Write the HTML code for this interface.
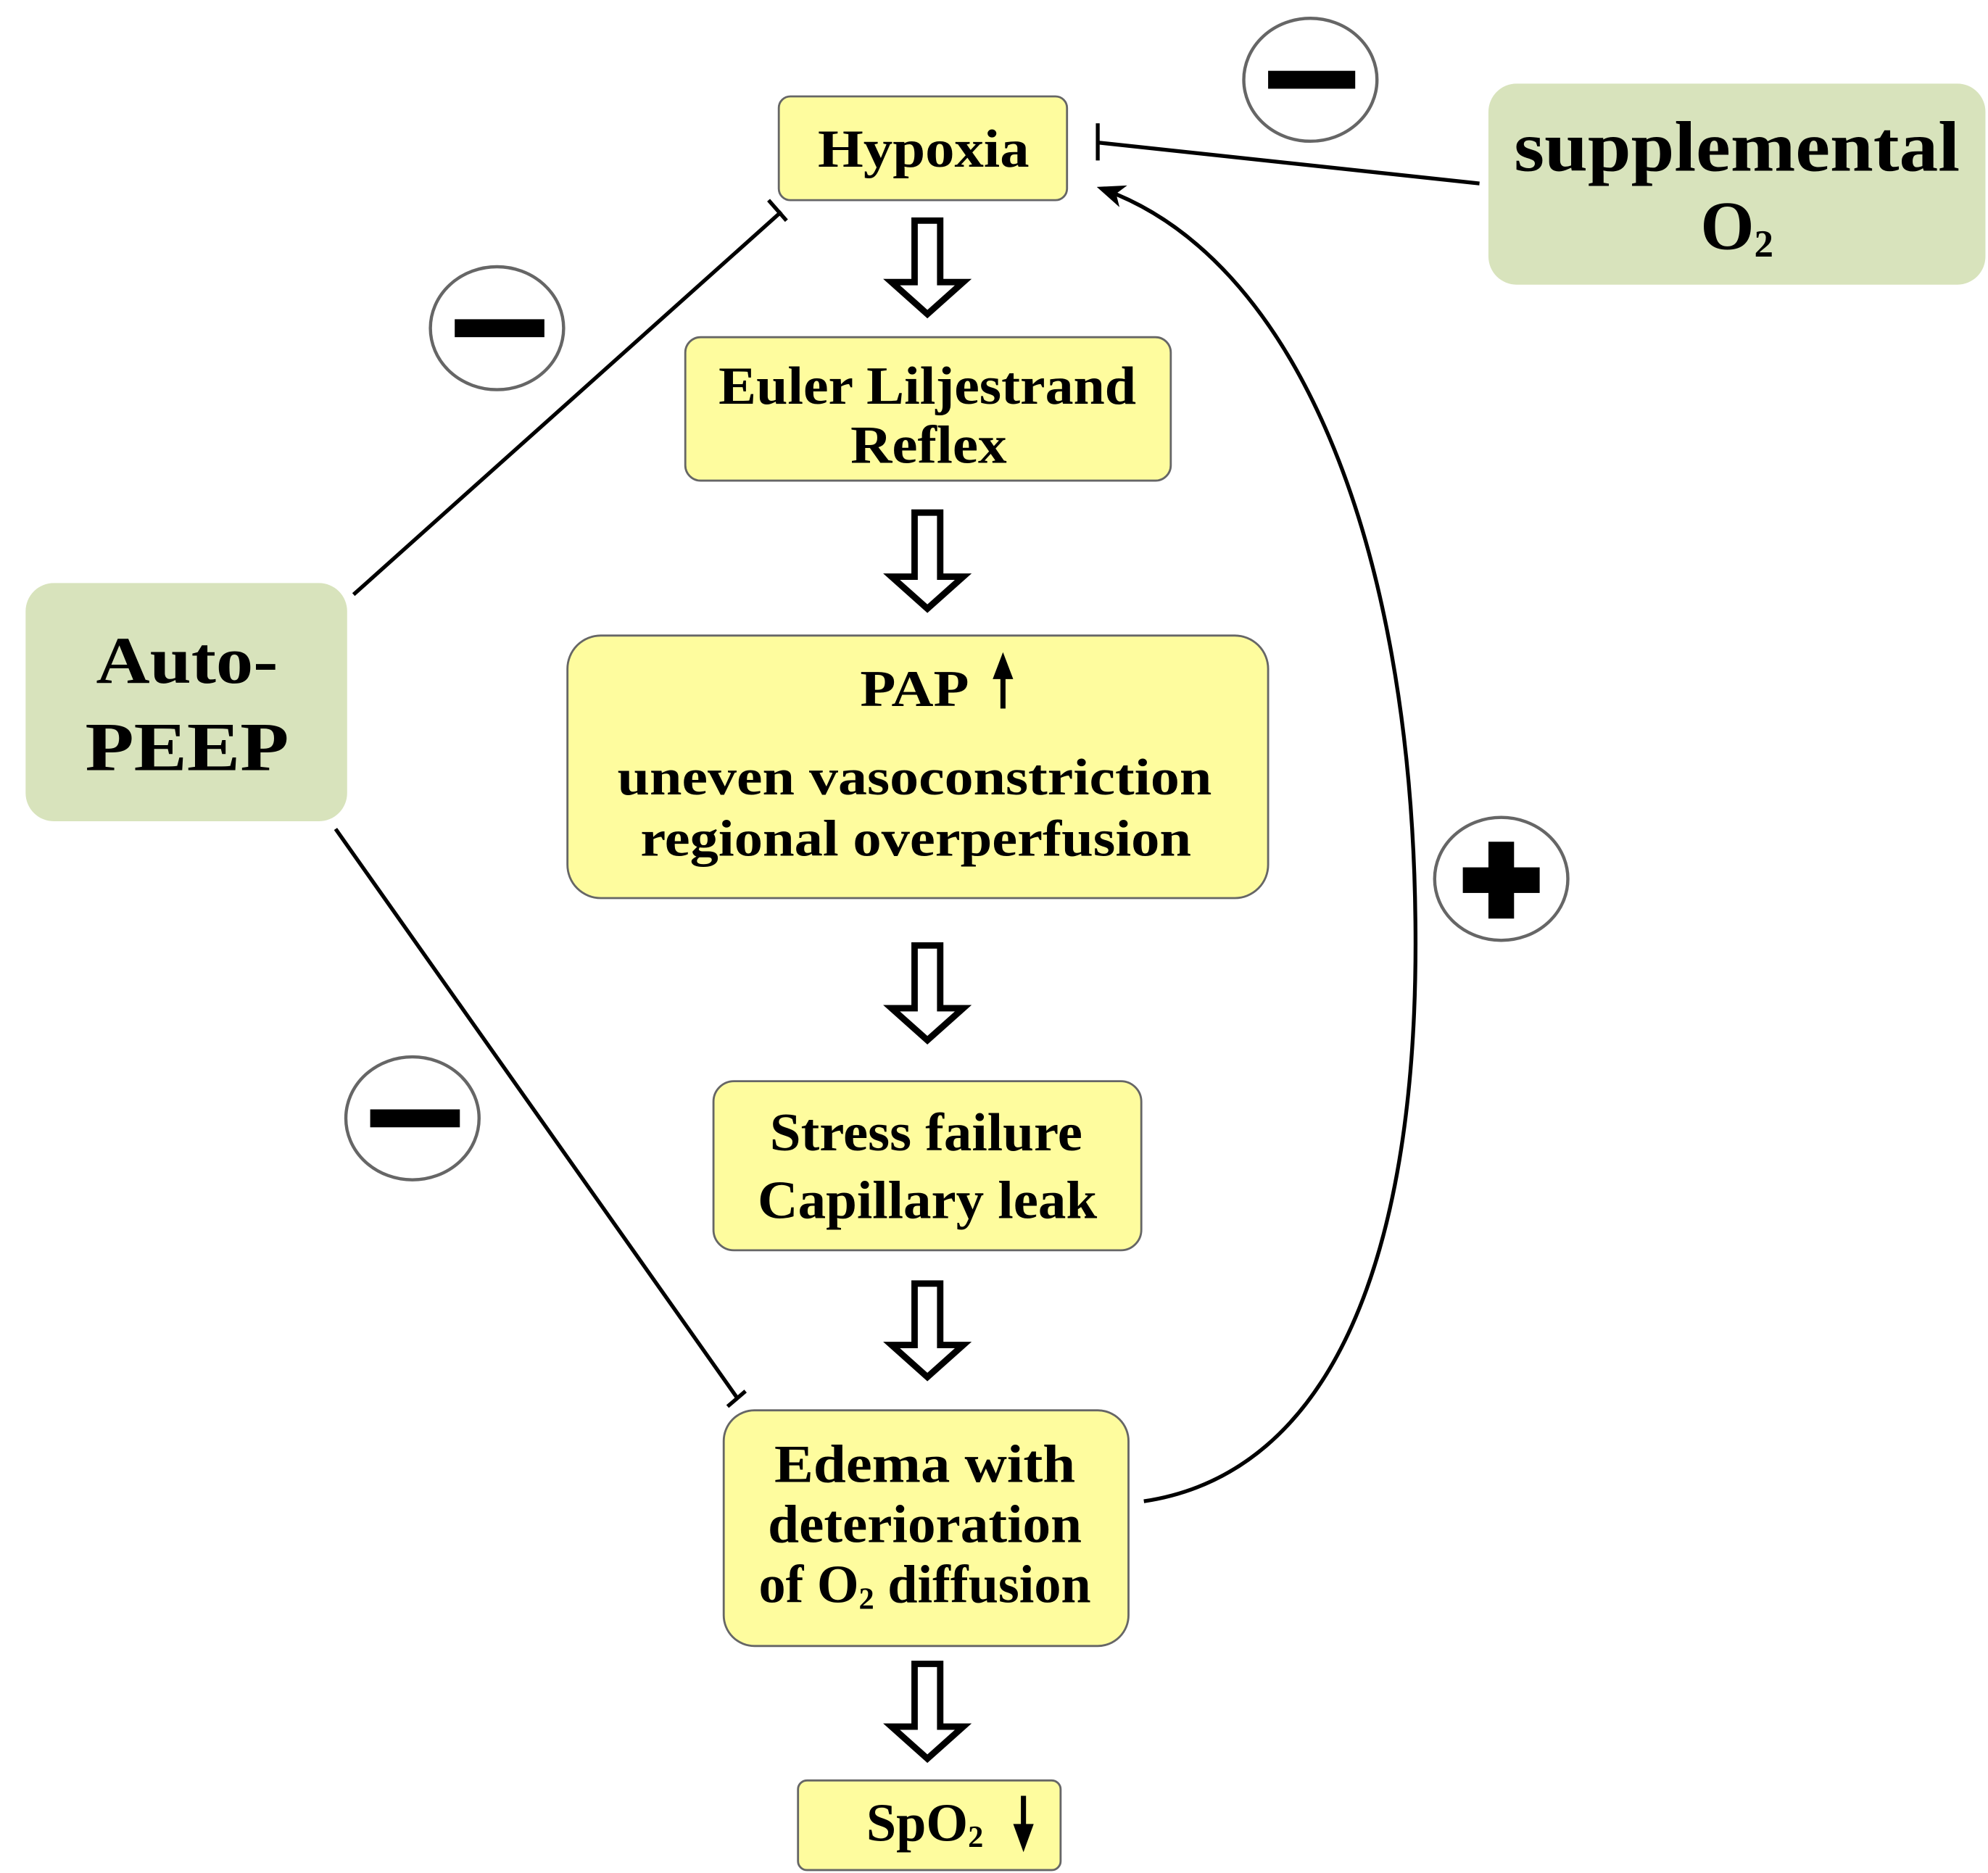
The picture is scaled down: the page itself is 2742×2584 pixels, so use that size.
<!DOCTYPE html>
<html><head><meta charset="utf-8"><style>
html,body{margin:0;padding:0;background:#fff;}
svg{display:block;}
text{font-family:"Liberation Serif",serif;fill:#000;}
</style></head><body>
<svg width="2742" height="2584" viewBox="0 0 1552 1462" xmlns="http://www.w3.org/2000/svg">
<defs>
<marker id="ah" markerWidth="22" markerHeight="18" refX="18" refY="9" orient="auto" markerUnits="userSpaceOnUse">
<path d="M0,0 L22,9 L0,18 L6,9 Z" fill="#000"/>
</marker>
</defs>
<!-- green boxes -->
<rect x="20" y="455" width="251" height="186" rx="22" fill="#d8e3bc"/>
<text x="146" y="533" font-size="52" font-weight="bold" text-anchor="middle" textLength="142" lengthAdjust="spacingAndGlyphs">Auto-</text>
<text x="146" y="601" font-size="54" font-weight="bold" text-anchor="middle" textLength="159" lengthAdjust="spacingAndGlyphs">PEEP</text>
<rect x="1162" y="65" width="388" height="157" rx="22" fill="#d8e3bc"/>
<text x="1356" y="133" font-size="56" font-weight="bold" text-anchor="middle" textLength="348" lengthAdjust="spacingAndGlyphs">supplemental</text>
<text x="1356" y="194" font-size="54" font-weight="bold" text-anchor="middle">O<tspan font-size="30" dy="6">2</tspan></text>

<!-- yellow boxes -->
<g fill="#fefc9e" stroke="#666" stroke-width="1.6">
<rect x="608" y="75" width="225" height="81" rx="9"/>
<rect x="535" y="263" width="379" height="112" rx="12"/>
<rect x="443" y="496" width="547" height="205" rx="26"/>
<rect x="557" y="844" width="334" height="132" rx="16"/>
<rect x="565" y="1101" width="316" height="184" rx="24"/>
<rect x="623" y="1390" width="205" height="70" rx="7"/>
</g>
<g font-weight="bold" text-anchor="middle" lengthAdjust="spacingAndGlyphs">
<text x="721" y="130" font-size="42" textLength="165" lengthAdjust="spacingAndGlyphs">Hypoxia</text>
<text x="724" y="315" font-size="42" textLength="326" lengthAdjust="spacingAndGlyphs">Euler Liljestrand</text>
<text x="725" y="361" font-size="42" textLength="122" lengthAdjust="spacingAndGlyphs">Reflex</text>
<text x="714" y="551" font-size="40" textLength="85" lengthAdjust="spacingAndGlyphs">PAP</text>
<text x="714" y="620" font-size="40" textLength="464" lengthAdjust="spacingAndGlyphs">uneven vasoconstriction</text>
<text x="715" y="668" font-size="40" textLength="430" lengthAdjust="spacingAndGlyphs">regional overperfusion</text>
<text x="723" y="898" font-size="42" textLength="244" lengthAdjust="spacingAndGlyphs">Stress failure</text>
<text x="724" y="951" font-size="42" textLength="265" lengthAdjust="spacingAndGlyphs">Capillary leak</text>
<text x="722" y="1157" font-size="42" textLength="235" lengthAdjust="spacingAndGlyphs">Edema with</text>
<text x="722" y="1204" font-size="42" textLength="245" lengthAdjust="spacingAndGlyphs">deterioration</text>
<text x="722" y="1251" font-size="42">of O<tspan font-size="24" dy="5">2</tspan><tspan dy="-5"> diffusion</tspan></text>
<text x="722" y="1437" font-size="42">SpO<tspan font-size="24" dy="5">2</tspan></text>
</g>
<!-- small arrows -->
<line x1="783" y1="553" x2="783" y2="525" stroke="#000" stroke-width="4"/>
<path d="M775,530 L783,509 L791,530 Z" fill="#000"/>
<line x1="799" y1="1402" x2="799" y2="1428" stroke="#000" stroke-width="4"/>
<path d="M791,1424 L799,1446 L807,1424 Z" fill="#000"/>

<!-- hollow arrows -->
<g fill="#fff" stroke="#000" stroke-width="5" stroke-linejoin="miter">
<path d="M714,172 L734,172 L734,220 L752,220 L724,245 L696,220 L714,220 Z"/>
<path d="M714,400 L734,400 L734,450 L752,450 L724,475 L696,450 L714,450 Z"/>
<path d="M714,738 L734,738 L734,787 L752,787 L724,812 L696,787 L714,787 Z"/>
<path d="M714,1002 L734,1002 L734,1050 L752,1050 L724,1075 L696,1050 L714,1050 Z"/>
<path d="M714,1299 L734,1299 L734,1348 L752,1348 L724,1373 L696,1348 L714,1348 Z"/>
</g>

<!-- connectors -->
<g stroke="#000" stroke-width="3" fill="none">
<line x1="276" y1="464" x2="610" y2="165"/>
<line x1="600" y1="156" x2="614" y2="172"/>
<line x1="262" y1="647" x2="576" y2="1092"/>
<line x1="568" y1="1098" x2="582" y2="1086"/>
<line x1="1155" y1="143" x2="857" y2="111"/>
<line x1="857" y1="96" x2="857" y2="125"/>
<path d="M893,1172 C1040,1150 1108,980 1105,720 C1102,420 1010,200 860,147" marker-end="url(#ah)"/>
</g>

<!-- minus / plus circles -->
<g fill="#fff" stroke="#666" stroke-width="2.5">
<ellipse cx="1023" cy="62" rx="52" ry="48"/>
<ellipse cx="388" cy="256" rx="52" ry="48"/>
<ellipse cx="322" cy="873" rx="52" ry="48"/>
<ellipse cx="1172" cy="686" rx="52" ry="48"/>
</g>
<g fill="#000">
<rect x="990" y="55" width="68" height="14"/>
<rect x="355" y="249" width="70" height="14"/>
<rect x="289" y="866" width="70" height="14"/>
<rect x="1142" y="677" width="60" height="20"/>
<rect x="1162" y="657" width="20" height="60"/>
</g>
</svg>
</body></html>
